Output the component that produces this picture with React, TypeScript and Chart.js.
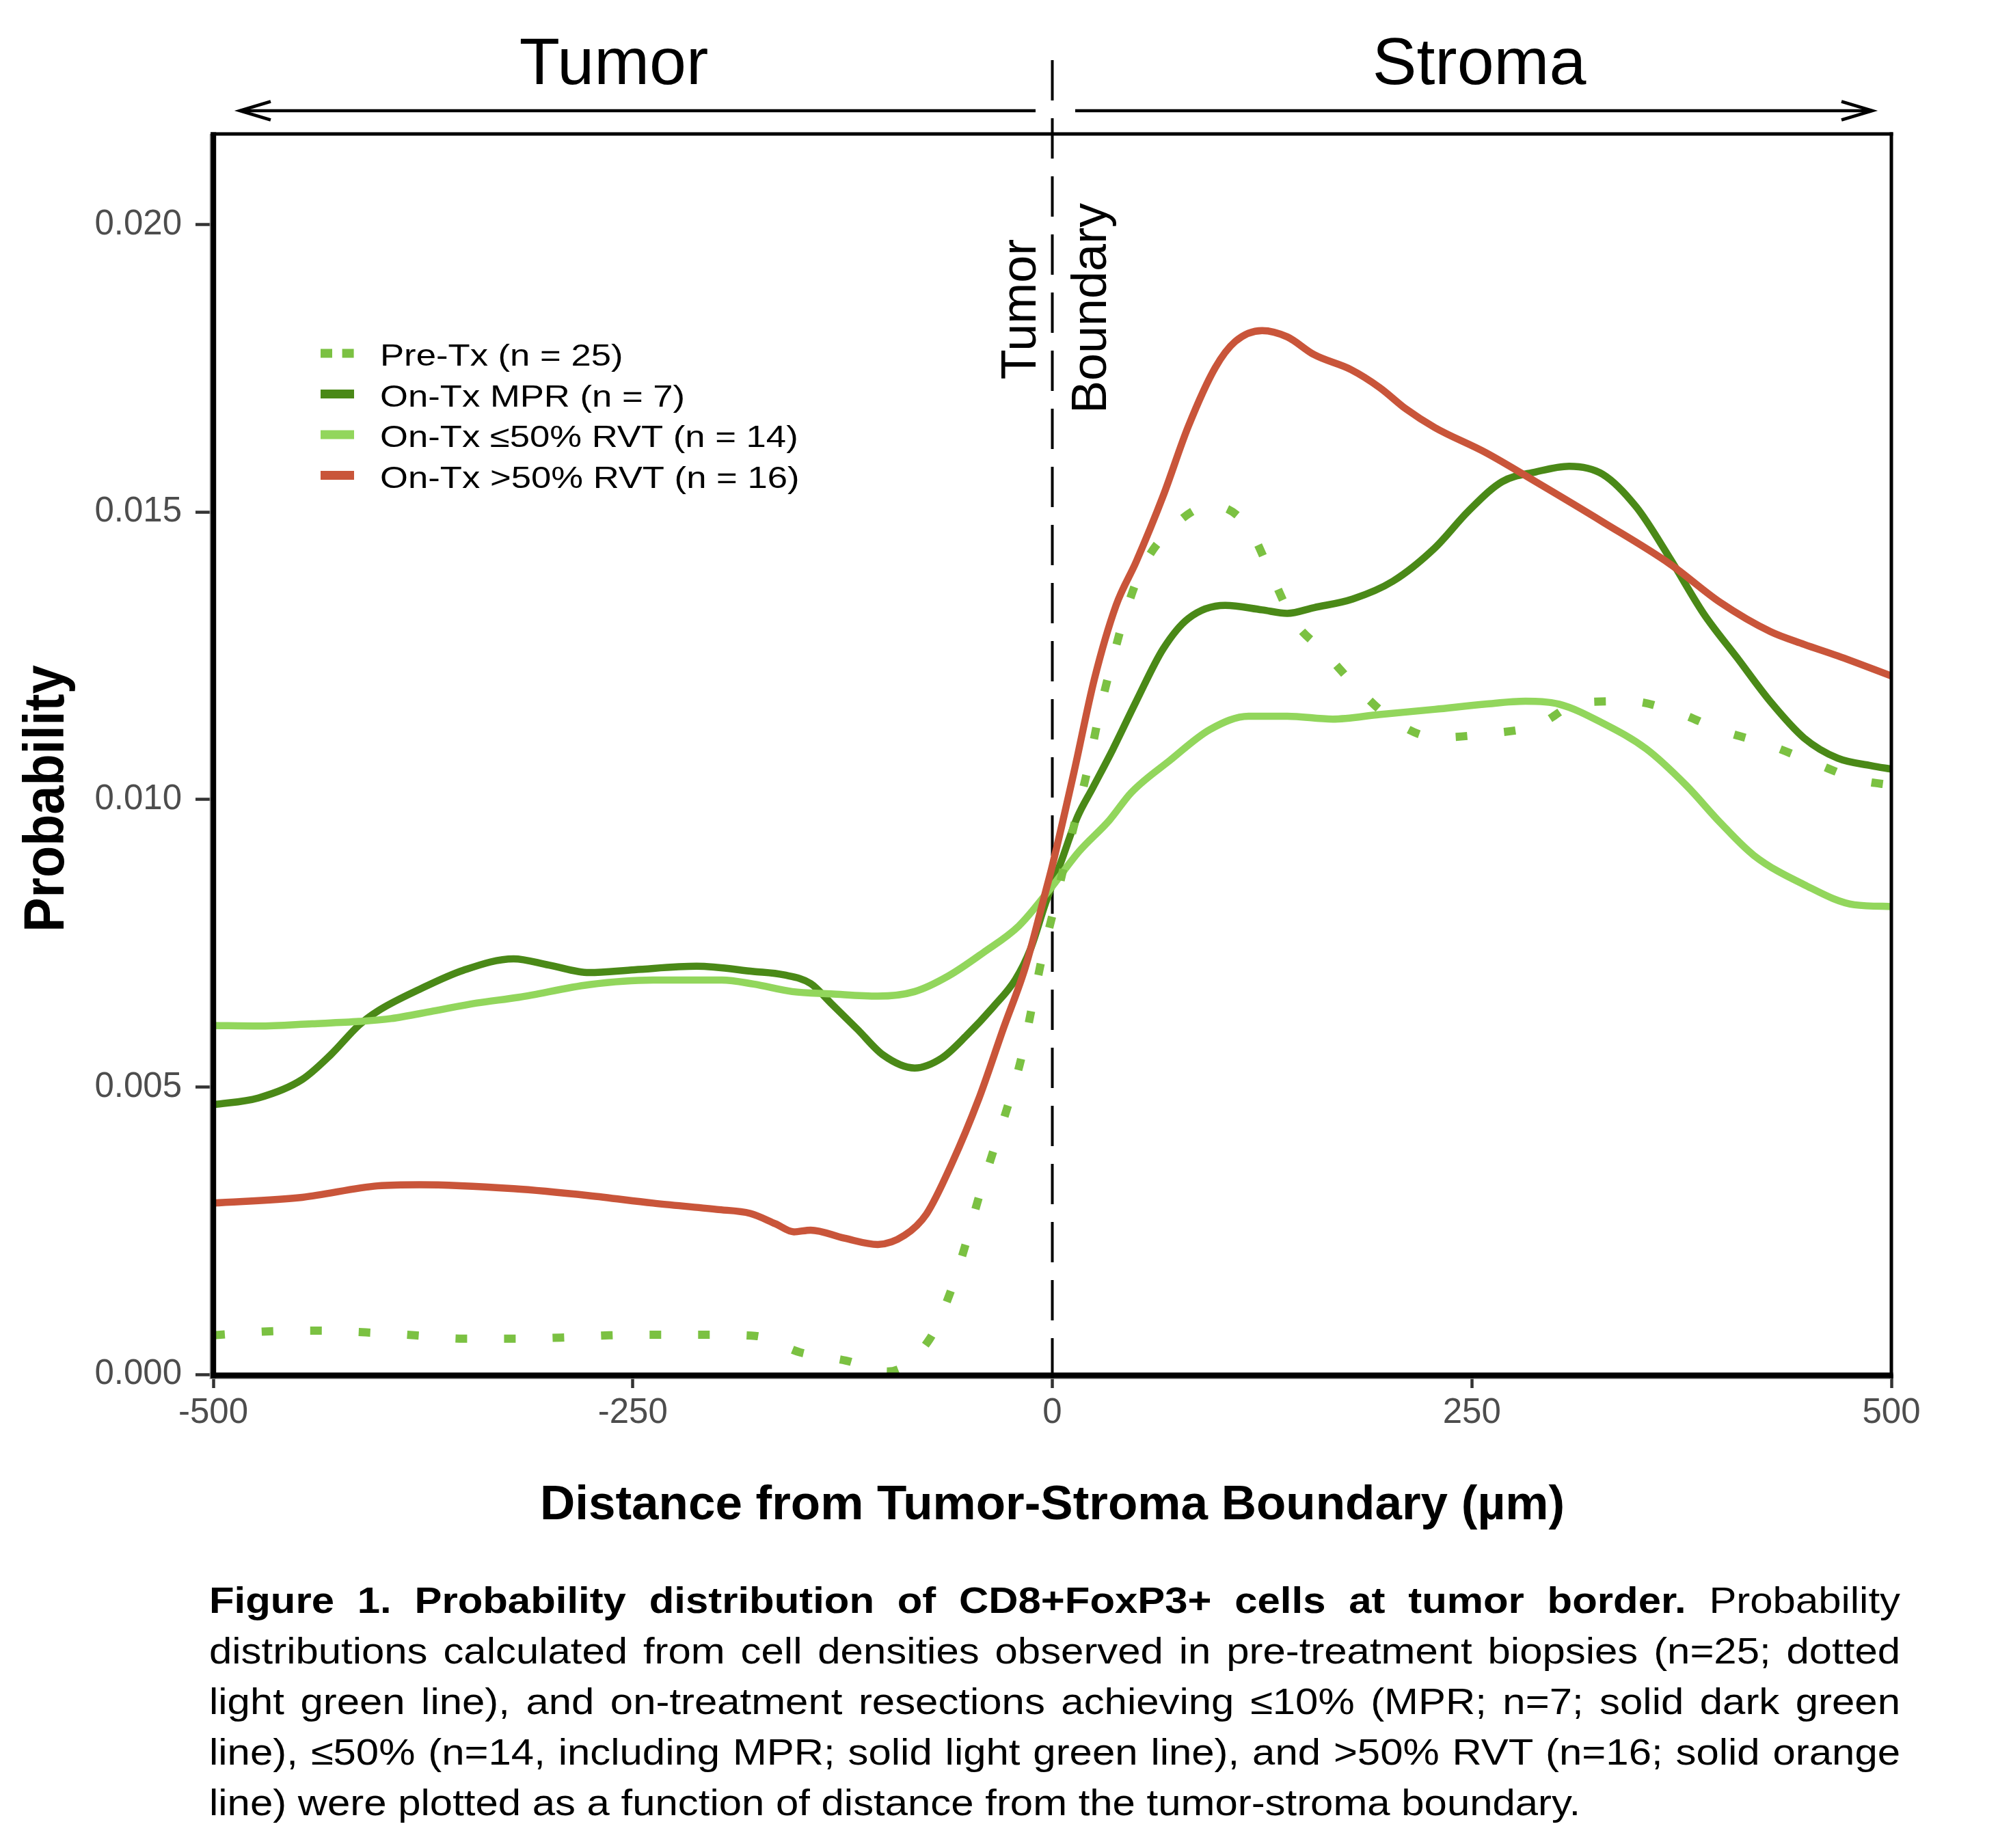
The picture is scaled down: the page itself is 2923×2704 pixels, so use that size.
import React, { useEffect, useRef } from "react";
import { Chart, registerables } from "chart.js";

Chart.register(...registerables);

// ---------------- data ----------------
const preTxX = [-500, -466, -438, -409, -380, -351, -322, -293, -264, -235, -206, -177, -150, -123, -98, -73, -61, -52, -44, -35, -26, -18, -12, -6, 1, 8, 15, 22, 28, 35, 43, 53, 70, 95, 117, 130, 143, 163, 183, 205, 229, 261, 289, 315, 344, 372, 399, 427, 454, 481, 500];
const preTxY = [0.00068, 0.00075, 0.00076, 0.00073, 0.00068, 0.00062, 0.00062, 0.00064, 0.00068, 0.00069, 0.00069, 0.00067, 0.00038, 0.00024, 0.00005, 0.00062, 0.00141, 0.00223, 0.00306, 0.0039, 0.00472, 0.00556, 0.00641, 0.00727, 0.0081, 0.00897, 0.00979, 0.01065, 0.0115, 0.01233, 0.01319, 0.01399, 0.01469, 0.01512, 0.01473, 0.01395, 0.01315, 0.01254, 0.0119, 0.01134, 0.01108, 0.01115, 0.01129, 0.01169, 0.01171, 0.01152, 0.0112, 0.01095, 0.01064, 0.01034, 0.01025];

const mprX = [-500, -473, -447, -430, -413, -402, -377, -351, -321, -300, -276, -249, -212, -178, -160, -144, -132, -116, -101, -82, -66, -51, -35, -22, -13, -4, 5, 15, 24, 36, 50, 66, 81, 103, 125, 140, 156, 179, 203, 228, 248, 268, 288, 308, 328, 348, 368, 388, 408, 428, 448, 468, 488, 500];
const mprY = [0.00469, 0.00481, 0.00513, 0.00556, 0.00608, 0.00632, 0.0067, 0.00703, 0.00723, 0.00712, 0.00699, 0.00704, 0.0071, 0.00701, 0.00695, 0.0068, 0.00646, 0.006, 0.00556, 0.00533, 0.0055, 0.0059, 0.0064, 0.00687, 0.0074, 0.0082, 0.0089, 0.0097, 0.0102, 0.01087, 0.01171, 0.01262, 0.01315, 0.01338, 0.0133, 0.01324, 0.01334, 0.01349, 0.0138, 0.01438, 0.01502, 0.01553, 0.0157, 0.0158, 0.01566, 0.01509, 0.0142, 0.01324, 0.01247, 0.0117, 0.01107, 0.01072, 0.01059, 0.01053];

const rvtLowX = [-500, -473, -441, -413, -394, -369, -343, -318, -276, -238, -197, -178, -155, -132, -104, -82, -62, -41, -20, -2, 16, 34, 47, 70, 94, 117, 140, 167, 195, 228, 258, 282, 302, 328, 354, 378, 398, 418, 448, 478, 500];
const rvtLowY = [0.00607, 0.00606, 0.0061, 0.00614, 0.00619, 0.00632, 0.00646, 0.00656, 0.00678, 0.00686, 0.00686, 0.00679, 0.00666, 0.00662, 0.00658, 0.00666, 0.00693, 0.00734, 0.0078, 0.00842, 0.0091, 0.00964, 0.01012, 0.01068, 0.01122, 0.01145, 0.01145, 0.0114, 0.01148, 0.01157, 0.01166, 0.01171, 0.01166, 0.01133, 0.01088, 0.01024, 0.0096, 0.00903, 0.00852, 0.00817, 0.00814];

const rvtHighX = [-500, -447, -402, -377, -321, -276, -238, -200, -180, -165, -154, -144, -124, -104, -88, -75, -60, -44, -29, -16, -4, 0, 13, 25, 38, 50, 66, 81, 97, 109, 125, 140, 156, 178, 195, 211, 228, 258, 288, 328, 368, 398, 428, 448, 468, 500];
const rvtHighY = [0.00298, 0.00308, 0.00328, 0.0033, 0.00323, 0.00311, 0.00298, 0.00287, 0.0028, 0.00262, 0.00248, 0.00251, 0.00237, 0.00226, 0.00242, 0.00279, 0.00366, 0.00478, 0.00603, 0.00709, 0.0084, 0.00885, 0.01049, 0.01209, 0.01338, 0.01414, 0.01528, 0.01649, 0.01751, 0.01797, 0.01816, 0.01805, 0.01774, 0.01748, 0.01717, 0.01679, 0.01647, 0.01604, 0.01553, 0.01483, 0.0141, 0.01343, 0.01292, 0.0127, 0.0125, 0.01215];

const seriesLabels = [
  "Pre-Tx (n = 25)",
  "On-Tx MPR (n = 7)",
  "On-Tx \u226450% RVT (n = 14)",
  "On-Tx >50% RVT (n = 16)",
];
const seriesColors = ["#7BC142", "#4A8917", "#92D65C", "#C9553A"];

const xTickValues = [-500, -250, 0, 250, 500];
const yTickValues = [0, 0.005, 0.01, 0.015, 0.02];
const boundaryValue = 0;

const regionLabels = ["Tumor", "Stroma"];
const boundaryWords = ["Tumor", "Boundary"];
const xAxisTitle = "Distance from Tumor-Stroma Boundary (\u00b5m)";
const yAxisTitle = "Probability";

const captionBold = "Figure 1. Probability distribution of CD8+FoxP3+ cells at tumor border.";
const captionLines = [
  " Probability",
  "distributions calculated from cell densities observed in pre-treatment biopsies (n=25; dotted",
  "light green line), and on-treatment resections achieving \u226410% (MPR; n=7; solid dark green",
  "line), \u226450% (n=14, including MPR; solid light green line), and >50% RVT (n=16; solid orange",
  "line) were plotted as a function of distance from the tumor-stroma boundary.",
];

// ---------------- styling ----------------
const FONT = "'Liberation Sans', Arial, Helvetica, sans-serif";
const CANVAS_W = 2923;
const CANVAS_H = 2290;

const toPoints = (xs: number[], ys: number[]) => xs.map((x, i) => ({ x, y: ys[i] }));

const overlayPlugin = {
  id: "overlay",
  beforeDatasetsDraw(chart: any) {
    const { ctx, chartArea: a, scales } = chart;
    const x0 = scales.x.getPixelForValue(boundaryValue);
    ctx.save();
    ctx.strokeStyle = "#000";
    ctx.lineWidth = 4;
    ctx.setLineDash([59, 26]);
    ctx.beginPath();
    ctx.moveTo(x0, 88);
    ctx.lineTo(x0, a.bottom);
    ctx.stroke();
    ctx.restore();
  },
  afterDraw(chart: any) {
    const { ctx, chartArea: a, scales } = chart;
    const yBase = scales.y.getPixelForValue(0);
    ctx.save();

    // panel frame
    ctx.fillStyle = "#9e9e9e";
    ctx.fillRect(a.left - 5.3, a.top, 1.6, yBase - a.top + 7);
    ctx.fillRect(a.left - 5.3, yBase + 5.7, a.right - a.left + 5, 1.3);
    ctx.fillStyle = "#000";
    ctx.fillRect(a.left - 3.8, a.top - 2.5, 8, yBase - a.top + 8); // left
    ctx.fillRect(a.left - 3.8, yBase - 2.7, a.right - a.left + 6.3, 8.4); // bottom
    ctx.fillRect(a.left - 3.8, a.top - 2.5, a.right - a.left + 6.3, 5); // top
    ctx.fillRect(a.right - 2.5, a.top - 2.5, 5, yBase - a.top + 8); // right

    // arrows
    ctx.strokeStyle = "#000";
    ctx.lineWidth = 4.7;
    ctx.lineCap = "butt";
    ctx.lineJoin = "miter";
    const ay = 162;
    const drawArrow = (from: number, tip: number) => {
      const dir = tip > from ? 1 : -1;
      ctx.beginPath();
      ctx.moveTo(from, ay);
      ctx.lineTo(tip - dir * 2, ay);
      ctx.stroke();
      ctx.beginPath();
      ctx.moveTo(tip - dir * 45, ay - 13.5);
      ctx.lineTo(tip, ay);
      ctx.lineTo(tip - dir * 45, ay + 13.5);
      ctx.stroke();
    };
    drawArrow(1515, 351);
    drawArrow(1573, 2739);

    // region labels
    ctx.fillStyle = "#000";
    ctx.font = `97px ${FONT}`;
    ctx.textAlign = "center";
    ctx.textBaseline = "alphabetic";
    ctx.fillText(regionLabels[0], 898, 123);
    ctx.fillText(regionLabels[1], 2164, 123);

    // boundary label (rotated)
    ctx.font = `72px ${FONT}`;
    const rot = (text: string, x: number, y: number) => {
      ctx.save();
      ctx.translate(x, y);
      ctx.rotate(-Math.PI / 2);
      ctx.textAlign = "center";
      ctx.textBaseline = "alphabetic";
      ctx.fillText(text, 0, 0);
      ctx.restore();
    };
    rot(boundaryWords[0], 1515, 452.5);
    rot(boundaryWords[1], 1618, 451);

    // y axis title
    ctx.save();
    ctx.translate(93, 1168.5);
    ctx.rotate(-Math.PI / 2);
    ctx.scale(0.9, 1);
    ctx.font = `bold 84px ${FONT}`;
    ctx.textAlign = "center";
    ctx.textBaseline = "alphabetic";
    ctx.fillText(yAxisTitle, 0, 0);
    ctx.restore();

    // legend
    const datasets = chart.data.datasets;
    for (let i = 0; i < datasets.length; i++) {
      const ds = datasets[i];
      const rowY = 517 + i * 59.5;
      ctx.save();
      ctx.strokeStyle = ds.borderColor;
      ctx.lineWidth = 13;
      ctx.lineCap = "butt";
      if (ds.borderDash && ds.borderDash.length) ctx.setLineDash([17, 14.6]);
      ctx.beginPath();
      ctx.moveTo(469, rowY);
      ctx.lineTo(518, rowY);
      ctx.stroke();
      ctx.restore();

      ctx.save();
      ctx.translate(556, rowY + 18);
      ctx.scale(1.17, 1);
      ctx.font = `45px ${FONT}`;
      ctx.fillStyle = "#000";
      ctx.textAlign = "left";
      ctx.textBaseline = "alphabetic";
      ctx.fillText(ds.label, 0, 0);
      ctx.restore();
    }

    ctx.restore();
  },
};

const common = {
  pointRadius: 0,
  pointHoverRadius: 0,
  fill: false,
  cubicInterpolationMode: "monotone" as const,
  borderJoinStyle: "round" as const,
};

export default function App() {
  const ref = useRef<HTMLCanvasElement>(null);

  useEffect(() => {
    document.body.style.margin = "0";
    const canvas = ref.current;
    if (!canvas) return;
    const chart = new Chart(canvas, {
      type: "line",
      data: {
        datasets: [
          {
            ...common,
            label: seriesLabels[0],
            data: toPoints(preTxX, preTxY),
            borderColor: seriesColors[0],
            borderWidth: 12,
            borderDash: [17, 54],
            borderCapStyle: "butt",
            order: 1,
          },
          {
            ...common,
            label: seriesLabels[1],
            data: toPoints(mprX, mprY),
            borderColor: seriesColors[1],
            borderWidth: 10.5,
            order: 3,
          },
          {
            ...common,
            label: seriesLabels[2],
            data: toPoints(rvtLowX, rvtLowY),
            borderColor: seriesColors[2],
            borderWidth: 10.5,
            order: 2,
          },
          {
            ...common,
            label: seriesLabels[3],
            data: toPoints(rvtHighX, rvtHighY),
            borderColor: seriesColors[3],
            borderWidth: 10.5,
            order: 0,
          },
        ],
      } as any,
      options: {
        animation: false,
        responsive: false,
        maintainAspectRatio: false,
        devicePixelRatio: 1,
        events: [],
        layout: { padding: { top: 196, right: 156, left: 0, bottom: 0 } },
        plugins: {
          legend: { display: false },
          tooltip: { enabled: false },
          title: { display: false },
        },
        scales: {
          x: {
            type: "linear",
            min: -500,
            max: 500,
            afterBuildTicks: (s: any) => {
              s.ticks = xTickValues.map((v) => ({ value: v }));
            },
            afterFit: (s: any) => {
              s.height = CANVAS_H - 2011;
            },
            ticks: {
              callback: (v: any) => String(v),
              font: { size: 51, family: FONT },
              color: "#4d4d4d",
              padding: 6,
              maxRotation: 0,
              autoSkip: false,
            },
            grid: {
              display: true,
              drawOnChartArea: false,
              drawTicks: true,
              tickLength: 20,
              tickWidth: 4.5,
              tickColor: "#333333",
            },
            border: { display: false },
            title: {
              display: true,
              text: xAxisTitle,
              color: "#000",
              font: { size: 71, weight: "bold", family: FONT },
              padding: { top: 0, bottom: 44 },
            },
          },
          y: {
            type: "linear",
            min: 0,
            max: 0.02158,
            afterBuildTicks: (s: any) => {
              s.ticks = yTickValues.map((v) => ({ value: v }));
            },
            afterFit: (s: any) => {
              s.width = 312;
            },
            ticks: {
              callback: (v: any) => Number(v).toFixed(3),
              font: { size: 51, family: FONT },
              color: "#4d4d4d",
              padding: 20,
              autoSkip: false,
            },
            grid: {
              display: true,
              drawOnChartArea: false,
              drawTicks: true,
              tickLength: 26,
              tickWidth: 4.5,
              tickColor: "#333333",
            },
            border: { display: false },
          },
        },
      } as any,
      plugins: [overlayPlugin],
    });
    return () => chart.destroy();
  }, []);

  const scaleX = 1.13;
  const capWidth = 2474 / scaleX;
  const lineH = 74;

  return (
    <div
      style={{
        position: "absolute",
        left: 0,
        top: 0,
        width: 2923,
        height: 2704,
        background: "#fff",
        overflow: "hidden",
      }}
    >
      <canvas
        ref={ref}
        width={CANVAS_W}
        height={CANVAS_H}
        style={{ position: "absolute", left: 0, top: 0, width: CANVAS_W, height: CANVAS_H }}
      />
      <div
        style={{
          position: "absolute",
          left: 306,
          top: 2305,
          width: capWidth,
          transform: `scaleX(${scaleX})`,
          transformOrigin: "left top",
          fontFamily: FONT,
          fontSize: 53,
          lineHeight: `${lineH}px`,
          color: "#000",
        }}
      >
        {captionLines.map((line, i) => (
          <div
            key={i}
            style={{
              height: lineH,
              textAlign: i < captionLines.length - 1 ? "justify" : "left",
              textAlignLast: i < captionLines.length - 1 ? "justify" : "left",
            } as any}
          >
            {i === 0 ? <b>{captionBold}</b> : null}
            {line}
          </div>
        ))}
      </div>
    </div>
  );
}
